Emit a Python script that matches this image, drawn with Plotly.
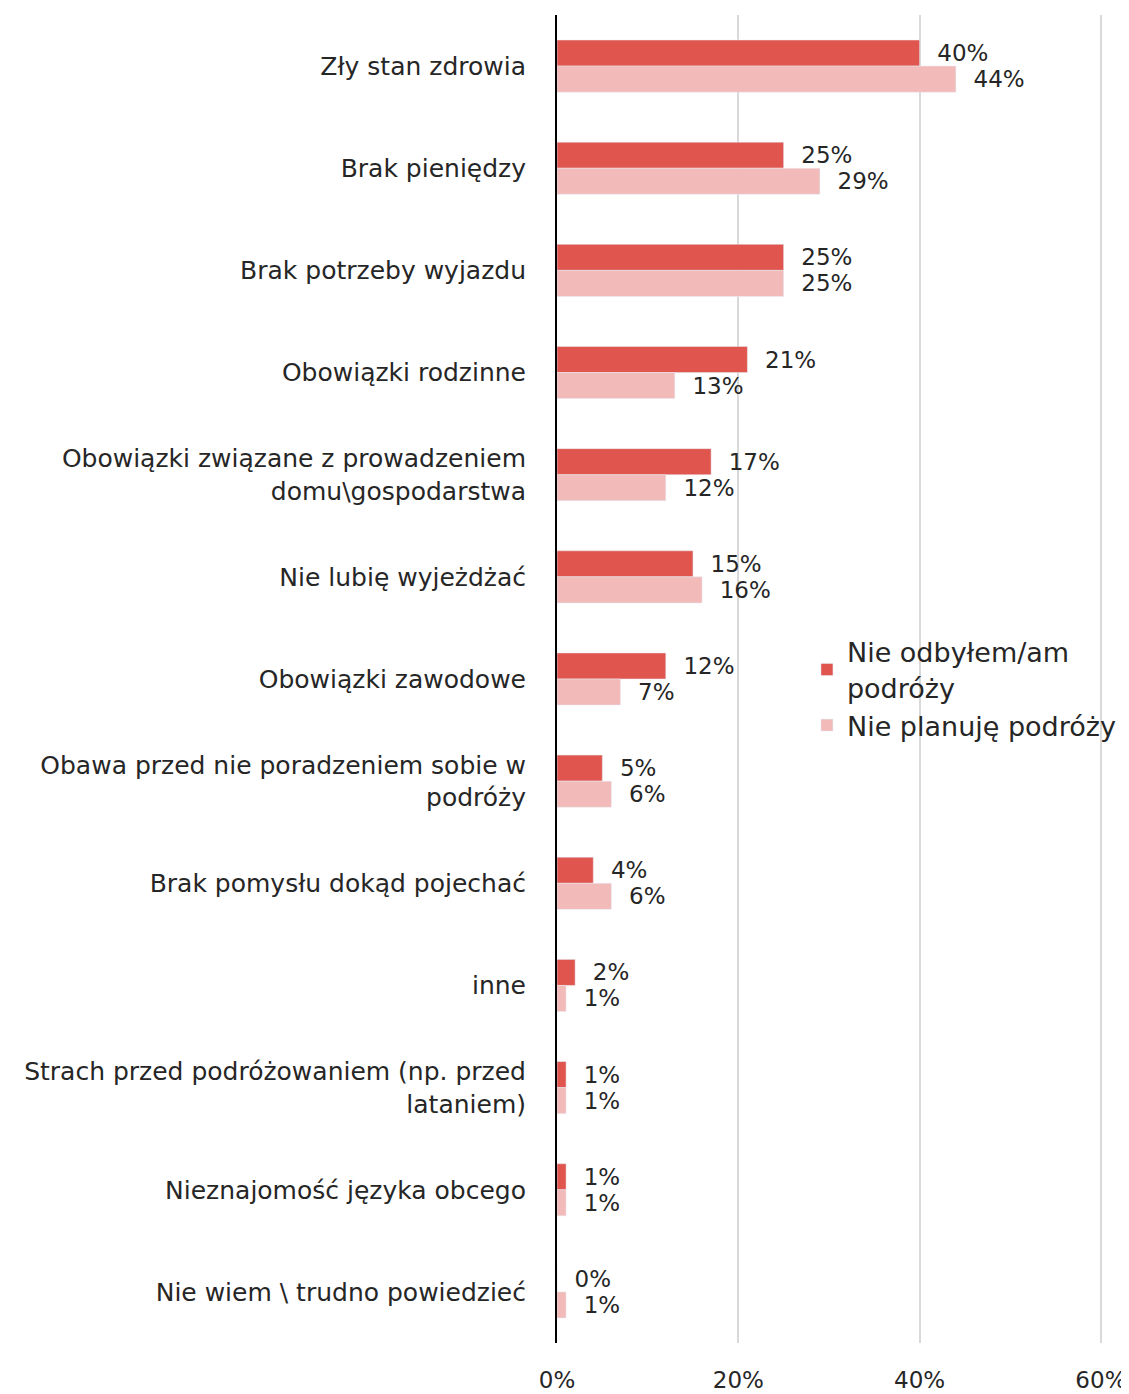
import plotly.graph_objects as go

categories = [
    "Zły stan zdrowia",
    "Brak pieniędzy",
    "Brak potrzeby wyjazdu",
    "Obowiązki rodzinne",
    "Obowiązki związane z prowadzeniem<br>domu\\gospodarstwa",
    "Nie lubię wyjeżdżać",
    "Obowiązki zawodowe",
    "Obawa przed nie poradzeniem sobie w<br>podróży",
    "Brak pomysłu dokąd pojechać",
    "inne",
    "Strach przed podróżowaniem (np. przed<br>lataniem)",
    "Nieznajomość języka obcego",
    "Nie wiem \\ trudno powiedzieć",
]
nie_odbylem = [40, 25, 25, 21, 17, 15, 12, 5, 4, 2, 1, 1, 0]
nie_planuje = [44, 29, 25, 13, 12, 16, 7, 6, 6, 1, 1, 1, 1]
x_ticks = [0, 20, 40, 60]
x_tick_labels = ["0%", "20%", "40%", "60%"]

FONT = "DejaVu Sans"
TXT = "#262626"

fig = go.Figure()
fig.add_trace(go.Bar(
    y=categories, x=nie_odbylem, orientation="h",
    name="Nie odbyłem/am<br>podróży",
    marker=dict(color="#E0554D"),
    text=[f"  {v}%" for v in nie_odbylem], textposition="outside",
    textfont=dict(family=FONT, size=23, color=TXT), cliponaxis=False,
))
fig.add_trace(go.Bar(
    y=categories, x=nie_planuje, orientation="h",
    name="Nie planuję podróży",
    marker=dict(color="#F2BAB8"),
    text=[f"  {v}%" for v in nie_planuje], textposition="outside",
    textfont=dict(family=FONT, size=23, color=TXT), cliponaxis=False,
))

fig.update_layout(
    width=1129, height=1394,
    margin=dict(l=549, r=27, t=7, b=59),
    paper_bgcolor="white", plot_bgcolor="white",
    barmode="group", bargap=0.49, bargroupgap=0,
    font=dict(family=FONT, size=24, color=TXT),
    showlegend=True,
    legend=dict(x=0.452, y=0.5385, xanchor="left", yanchor="top",
                font=dict(family=FONT, size=27, color=TXT),
                traceorder="normal", itemwidth=30, tracegroupgap=28,
                bgcolor="rgba(0,0,0,0)"),
    xaxis=dict(range=[0, 61], tickvals=x_ticks, ticktext=x_tick_labels,
               showgrid=True, gridcolor="#D9D9D9", gridwidth=2,
               zeroline=False, showline=False, ticks="",
               ticklabelstandoff=21,
               tickfont=dict(family=FONT, size=23, color=TXT)),
    yaxis=dict(autorange="reversed", showline=True, linecolor="black", linewidth=2,
               ticks="", ticklabelstandoff=24,
               tickfont=dict(family=FONT, size=25, color=TXT)),
)

fig.write_html("out.html")
